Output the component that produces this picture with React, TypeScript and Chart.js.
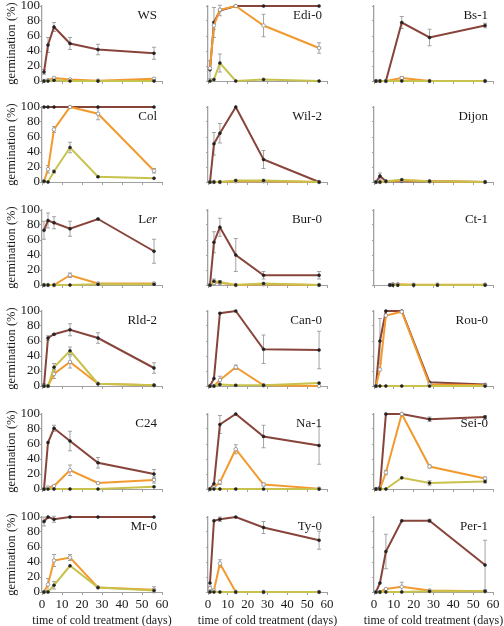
import React, { useEffect, useRef } from 'react';
import { Chart, registerables } from 'chart.js';

Chart.register(...registerables);

// ---------- data ----------
const DAYS = [1, 3, 6, 14, 28, 56];
const CT1_DAYS = [8, 9.5, 12, 20, 32, 56];
const X_TICKS = [0, 10, 20, 30, 40, 50, 60];
const Y_TICKS = [0, 20, 40, 60, 80, 100];

const ACCESSIONS = [
  'WS', 'Edi-0', 'Bs-1',
  'Col', 'Wil-2', 'Dijon',
  'Ler', 'Bur-0', 'Ct-1',
  'Rld-2', 'Can-0', 'Rou-0',
  'C24', 'Na-1', 'Sei-0',
  'Mr-0', 'Ty-0', 'Per-1',
];

const BROWN = [
  [12, 48, 72, 50, 42, 37], [15, 78, 94, 100, 100, 100], [0, 0, 0, 78, 58, 74],
  [100, 100, 100, 100, 100, 100], [0, 51, 65, 100, 30, 0], [0, 8, 1, 1, 1, 0],
  [73, 86, 83, 75, 88, 45], [0, 57, 77, 40, 13, 13], [0, 0, 0, 0, 0, 0],
  [1, 64, 69, 75, 64, 24], [0, 10, 97, 100, 49, 48], [0, 60, 100, 100, 5, 2],
  [0, 62, 81, 64, 35, 20], [0, 7, 86, 100, 70, 58], [0, 2, 100, 100, 93, 96],
  [94, 100, 97, 100, 100, 100], [12, 95, 97, 100, 86, 69], [0, 12, 54, 95, 95, 36],
];
const BROWN_ERR = [
  [3, 10, 6, 8, 7, 8], [12, 20, 7, 0, 0, 0], [0, 0, 0, 8, 11, 3],
  [0, 0, 0, 0, 0, 0], [0, 15, 13, 0, 12, 0], [0, 4, 0, 0, 0, 0],
  [12, 10, 8, 10, 1, 16], [0, 14, 12, 22, 5, 5], [0, 0, 0, 0, 0, 0],
  [2, 3, 1, 8, 7, 7], [0, 0, 0, 0, 19, 25], [0, 30, 0, 0, 0, 0],
  [0, 0, 4, 13, 7, 6], [0, 0, 12, 0, 15, 25], [0, 0, 0, 0, 3, 2],
  [6, 0, 4, 0, 0, 0], [0, 0, 3, 0, 8, 12], [0, 0, 23, 0, 2, 33],
];
const ORANGE = [
  [0, 1, 4, 2, 0.5, 3], [17, 74, 95, 100, 74, 44], [0, 0, 0, 4, 0, 0],
  [1, 17, 70, 100, 91, 15], [0, 0, 0, 1, 1, 0], [0, 0, 1, 2, 1, 0],
  [0, 0, 0, 13, 2, 2], [0, 3, 3, 0, 1, 0], [0, 1, 1, 0.5, 0.5, 0.5],
  [0, 0, 16, 32, 3, 1], [0, 0, 8, 25, 1, 0], [0, 22, 94, 99, 2, 1],
  [0, 2, 4, 25, 8, 12], [0, 2, 9, 53, 6, 0.5], [0, 0, 22, 100, 30, 14],
  [0, 10, 42, 46, 6, 3], [5, 2, 38, 0, 0, 0], [0, 0, 4, 7, 2, 1],
];
const ORANGE_ERR = [
  [0, 0, 1, 1, 0, 1], [0, 5, 0, 0, 15, 7], [0, 0, 0, 2, 0, 0],
  [0, 5, 4, 0, 8, 3], [0, 0, 0, 0, 0, 0], [0, 0, 0, 0, 0, 0],
  [0, 0, 0, 3, 0, 1], [0, 2, 2, 0, 0, 0], [0, 0, 0, 0, 0, 0],
  [0, 0, 6, 8, 0, 0], [0, 0, 5, 3, 0, 0], [0, 0, 0, 0, 0, 0],
  [0, 0, 1, 7, 1, 4], [0, 0, 3, 6, 2, 0], [0, 0, 3, 0, 2, 2],
  [0, 8, 8, 4, 0, 4], [3, 0, 5, 0, 0, 0], [0, 0, 0, 6, 0, 0],
];
const YELLOW = [
  [0, 0, 1, 0, 0, 0], [0, 2, 24, 0, 2, 0], [0, 0, 0, 0, 0, 0],
  [1, 0, 14, 46, 7, 5], [0, 0, 0, 2, 2, 0], [0, 0, 1, 3, 1, 0],
  [0, 0, 0, 0, 1, 1], [0, 5, 4, 0, 2, 0], [0, 0, 0, 0, 0, 0],
  [0, 0, 25, 47, 3, 1], [0, 0, 2, 1, 1, 4], [0, 0, 0, 0, 0, 0],
  [0, 0, 0, 0, 0, 3], [0, 0, 0, 0, 0, 0], [0, 0, 0, 15, 8, 10],
  [0, 0, 9, 35, 6, 2], [0, 0, 0, 0, 0, 0], [0, 0, 0, 0, 1, 1],
];
const YELLOW_ERR = [
  [0, 0, 0, 0, 0, 0], [0, 0, 12, 0, 0, 0], [0, 0, 0, 0, 0, 0],
  [0, 0, 2, 7, 1, 0], [0, 0, 0, 0, 0, 0], [0, 0, 0, 0, 0, 0],
  [0, 0, 0, 0, 0, 0], [0, 3, 2, 0, 0, 0], [0, 0, 0, 0, 0, 0],
  [0, 0, 5, 5, 0, 0], [0, 0, 0, 0, 0, 0], [0, 0, 0, 0, 0, 0],
  [0, 0, 0, 0, 0, 0], [0, 0, 0, 0, 0, 0], [0, 0, 0, 0, 3, 2],
  [0, 0, 5, 0, 0, 0], [0, 0, 0, 0, 0, 0], [0, 0, 0, 0, 0, 0],
];

const Y_TITLE = 'germination (%)';
const X_TITLE = 'time of cold treatment (days)';

// ---------- layout ----------
const COL_LEFT = [42, 208, 374];
const COL_RIGHT = [162, 327, 493];
const ROW_TOP = [6, 107, 210, 311, 414, 517];
const PLOT_H = 75;
const Y_AXIS_W = 42;
const PAD_TOP = 8;
const PAD_RIGHT = 8;
const PAD_RIGHT_BOTTOM = 30;
const X_AXIS_H = 8;
const X_AXIS_H_BOTTOM = 38;

const FONT = "'Liberation Serif', 'DejaVu Serif', serif";
const C_BROWN = '#87443a';
const C_ORANGE = '#f29a2e';
const C_YELLOW = '#c8c24c';
const C_AXIS = '#a0a0a0';
const C_ERR = '#9a9a9a';
const C_TEXT = '#1a1a1a';

const errorBarPlugin = {
  id: 'errorBars',
  beforeDatasetsDraw(chart: any) {
    const ctx = chart.ctx;
    const ys = chart.scales.y;
    chart.data.datasets.forEach((ds: any, di: number) => {
      const errs = ds.errors as number[] | undefined;
      if (!errs) return;
      const meta = chart.getDatasetMeta(di);
      meta.data.forEach((pt: any, i: number) => {
        const e = errs[i];
        if (!e) return;
        const v = ds.data[i].y;
        const y1 = ys.getPixelForValue(v + e);
        const y2 = ys.getPixelForValue(v - e);
        ctx.save();
        ctx.strokeStyle = C_ERR;
        ctx.lineWidth = 0.9;
        ctx.beginPath();
        ctx.moveTo(pt.x, y1);
        ctx.lineTo(pt.x, y2);
        ctx.moveTo(pt.x - 2, y1);
        ctx.lineTo(pt.x + 2, y1);
        ctx.moveTo(pt.x - 2, y2);
        ctx.lineTo(pt.x + 2, y2);
        ctx.stroke();
        ctx.restore();
      });
    });
  },
};

function makeTextPlugin(label: string, showY: boolean, showX: boolean) {
  return {
    id: 'panelText',
    afterDraw(chart: any) {
      const ctx = chart.ctx;
      const area = chart.chartArea;
      ctx.save();
      ctx.fillStyle = C_TEXT;
      ctx.textBaseline = 'middle';
      const segs: [string, boolean][] = label === 'Ler' ? [['L', false], ['er', true]] : [[label, false]];
      const fontFor = (it: boolean) => `${it ? 'italic ' : ''}13px ${FONT}`;
      let total = 0;
      segs.forEach(([s, it]) => { ctx.font = fontFor(it); total += ctx.measureText(s).width; });
      let x = area.right - 5 - total;
      const y = area.top + 10;
      ctx.textAlign = 'left';
      segs.forEach(([s, it]) => {
        ctx.font = fontFor(it);
        ctx.fillText(s, x, y);
        x += ctx.measureText(s).width;
      });
      ctx.font = `12.5px ${FONT}`;
      if (showY) {
        ctx.save();
        ctx.translate(area.left - 30, (area.top + area.bottom) / 2);
        ctx.rotate(-Math.PI / 2);
        ctx.textAlign = 'center';
        ctx.fillText(Y_TITLE, 0, 0);
        ctx.restore();
      }
      if (showX) {
        ctx.font = `12px ${FONT}`;
        ctx.textAlign = 'center';
        ctx.fillText(X_TITLE, (area.left + area.right) / 2, area.bottom + 29);
      }
      ctx.restore();
    },
  };
}

function makeDataset(label: string, xs: number[], ys: number[], errs: number[], color: string, open: boolean) {
  return {
    label,
    data: xs.map((x, i) => ({ x, y: ys[i] })),
    errors: errs,
    borderColor: color,
    borderWidth: 2,
    backgroundColor: open ? '#ffffff' : '#222222',
    pointBackgroundColor: open ? '#ffffff' : '#222222',
    pointBorderColor: open ? '#8a8a8a' : '#222222',
    pointBorderWidth: open ? 0.8 : 0.5,
    pointRadius: open ? 1.8 : 1.5,
    tension: 0,
    clip: false,
  };
}

function panelBox(idx: number) {
  const col = idx % 3;
  const row = Math.floor(idx / 3);
  const bottomRow = row === 5;
  const padRight = bottomRow ? PAD_RIGHT_BOTTOM : PAD_RIGHT;
  const xAxisH = bottomRow ? X_AXIS_H_BOTTOM : X_AXIS_H;
  return {
    col, row, bottomRow, padRight, xAxisH,
    left: COL_LEFT[col] - Y_AXIS_W,
    top: ROW_TOP[row] - PAD_TOP,
    width: COL_RIGHT[col] - COL_LEFT[col] + Y_AXIS_W + padRight,
    height: PAD_TOP + PLOT_H + xAxisH,
  };
}

export default function App() {
  const refs = useRef<(HTMLCanvasElement | null)[]>([]);

  useEffect(() => {
    const charts: Chart[] = [];
    ACCESSIONS.forEach((name, idx) => {
      const canvas = refs.current[idx];
      if (!canvas) return;
      const b = panelBox(idx);
      const xs = name === 'Ct-1' ? CT1_DAYS : DAYS;
      const cfg: any = {
        type: 'line',
        data: {
          datasets: [
            makeDataset('yellow', xs, YELLOW[idx], YELLOW_ERR[idx], C_YELLOW, false),
            makeDataset('orange', xs, ORANGE[idx], ORANGE_ERR[idx], C_ORANGE, true),
            makeDataset('brown', xs, BROWN[idx], BROWN_ERR[idx], C_BROWN, false),
          ],
        },
        options: {
          animation: false,
          responsive: false,
          devicePixelRatio: 1,
          layout: { autoPadding: false, padding: { left: 0, top: PAD_TOP, right: b.padRight, bottom: 0 } },
          plugins: {
            legend: { display: false },
            tooltip: { enabled: false },
          },
          scales: {
            x: {
              type: 'linear',
              min: 0,
              max: 60,
              afterBuildTicks: (s: any) => { s.ticks = X_TICKS.map((v) => ({ value: v })); },
              ticks: { display: b.bottomRow, font: { family: FONT, size: 13 }, color: C_TEXT, padding: 2, maxRotation: 0, autoSkip: false },
              grid: { display: true, drawOnChartArea: false, drawTicks: true, tickLength: 3, color: C_AXIS, lineWidth: 1 },
              border: { display: true, color: C_AXIS, width: 1 },
              afterFit: (s: any) => { s.height = b.xAxisH; },
            },
            y: {
              type: 'linear',
              min: 0,
              max: 100,
              afterBuildTicks: (s: any) => { s.ticks = Y_TICKS.map((v) => ({ value: v })); },
              ticks: { display: b.col === 0, font: { family: FONT, size: 13 }, color: C_TEXT, padding: 0, autoSkip: false },
              grid: { display: true, drawOnChartArea: false, drawTicks: true, tickLength: 2, color: C_AXIS, lineWidth: 1 },
              border: { display: true, color: C_AXIS, width: 1.3 },
              afterFit: (s: any) => { s.width = Y_AXIS_W; },
            },
          },
        },
        plugins: [errorBarPlugin, makeTextPlugin(name, b.col === 0, b.bottomRow)],
      };
      charts.push(new Chart(canvas, cfg));
    });
    return () => charts.forEach((c) => c.destroy());
  }, []);

  return (
    <div style={{ position: 'absolute', left: 0, top: 0, width: 504, height: 626, overflow: 'hidden', background: '#fff' }}>
      {ACCESSIONS.map((name, idx) => {
        const b = panelBox(idx);
        return (
          <canvas
            key={name}
            ref={(el) => { refs.current[idx] = el; }}
            width={b.width}
            height={b.height}
            style={{ position: 'absolute', left: b.left, top: b.top, width: b.width, height: b.height }}
          />
        );
      })}
    </div>
  );
}
